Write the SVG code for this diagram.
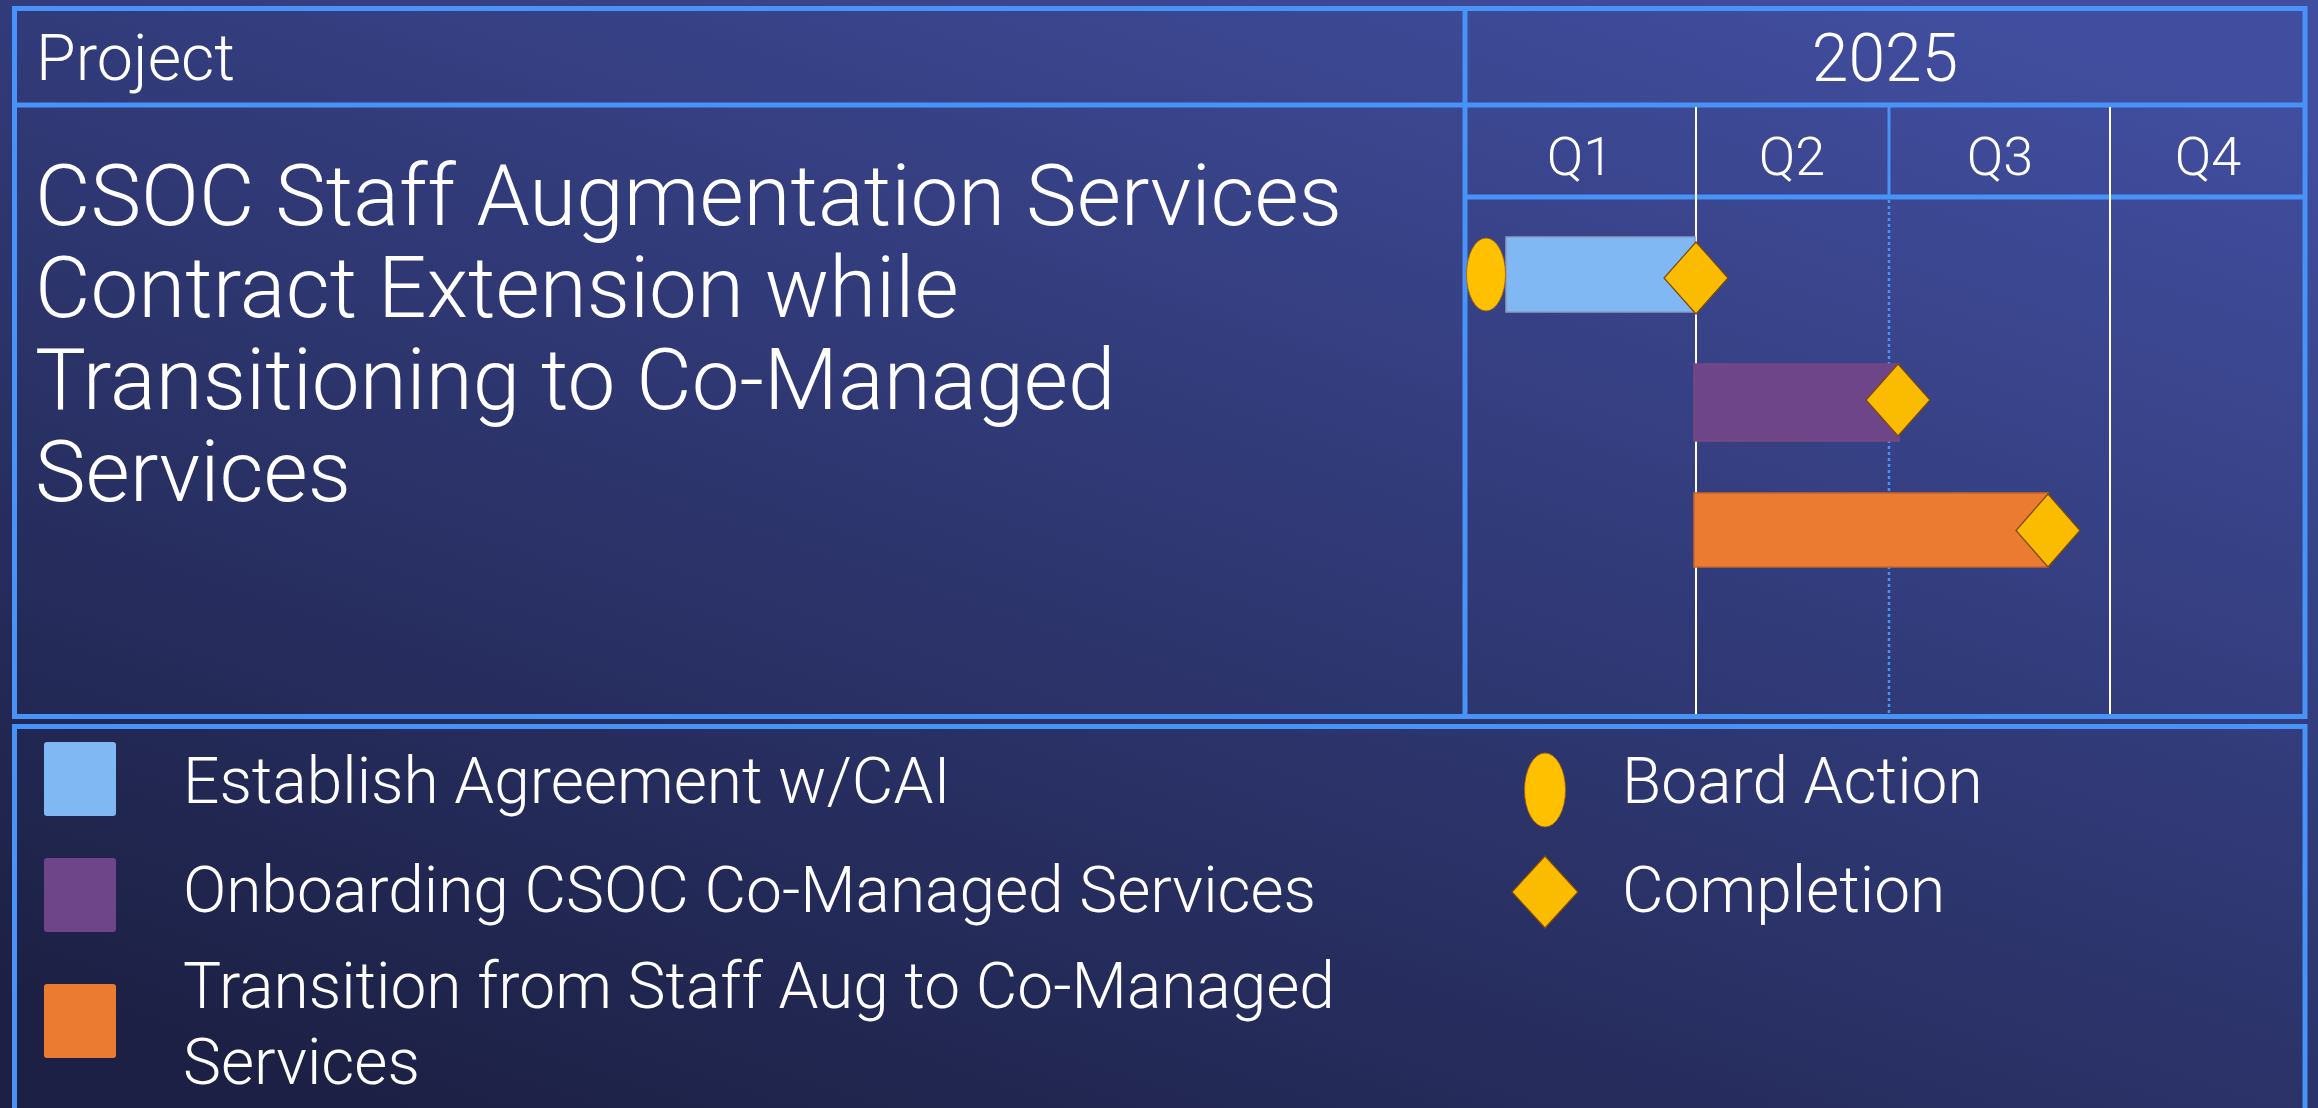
<svg xmlns="http://www.w3.org/2000/svg" width="2318" height="1108" viewBox="0 0 2318 1108">
<defs>
<linearGradient id="bg" x1="0.15" y1="1" x2="0.85" y2="0">
<stop offset="0" stop-color="#1c2044"/>
<stop offset="1" stop-color="#414e9f"/>
</linearGradient>
</defs>
<style>
.t{font-family:Roboto,"Liberation Sans",sans-serif;font-weight:300;fill:#ffffff}
.frame{fill:none;stroke:#4793f8;stroke-width:5}
.bl{stroke:#4793f8;stroke-width:5}
.wl{stroke:#ffffff;stroke-width:2}
.dot{stroke:#4793f8;stroke-width:2.5;stroke-dasharray:3 3}
.ms{fill:#fbbc00;stroke:#7a4a10;stroke-width:1.2}
.ov{fill:#ffc000;stroke:#a0600a;stroke-width:0.8}
</style>
<rect x="0" y="0" width="2318" height="1108" fill="url(#bg)"/>

<g id="table">
<rect class="frame" x="14.5" y="8.5" width="2290.5" height="708"/>
<line class="bl" x1="14" y1="105" x2="2305" y2="105"/>
<line class="bl" x1="1465" y1="8" x2="1465" y2="717"/>
<line class="bl" x1="1465" y1="197" x2="2305" y2="197"/>
<line class="wl" x1="1696" y1="107" x2="1696" y2="714"/>
<line class="wl" x1="2110" y1="107" x2="2110" y2="714"/>
<line stroke="#4793f8" stroke-width="3" x1="1889" y1="107" x2="1889" y2="195"/>
<line class="dot" x1="1889" y1="200" x2="1889" y2="714"/>
</g>

<g id="headers">
<text class="t" x="36" y="80" font-size="64.5">Project</text>
<text class="t" x="1885" y="81" font-size="66" text-anchor="middle">2025</text>
<text class="t" x="1580" y="175" font-size="54" text-anchor="middle">Q1</text>
<text class="t" x="1792" y="175" font-size="54" text-anchor="middle">Q2</text>
<text class="t" x="2000" y="175" font-size="54" text-anchor="middle">Q3</text>
<text class="t" x="2208" y="175" font-size="54" text-anchor="middle">Q4</text>
</g>

<g id="project-title">
<text class="t" x="35" y="225" font-size="85.4">CSOC Staff Augmentation Services</text>
<text class="t" x="35" y="317" font-size="85.4">Contract Extension while</text>
<text class="t" x="35" y="409" font-size="85.4">Transitioning to Co-Managed</text>
<text class="t" x="35" y="501" font-size="85.4">Services</text>
</g>

<g id="bar-agreement">
<rect x="1506" y="237" width="189" height="75" fill="#7fb8f2" stroke="#8a9cc0" stroke-width="1.5"/>
<ellipse class="ov" cx="1486" cy="274.5" rx="19.5" ry="36.5"/>
<polygon class="ms" points="1696,242 1728,278 1696,314 1664,278"/>
</g>

<g id="bar-onboarding">
<rect x="1694" y="364" width="205" height="77" fill="#6f4589" stroke="#7a4a80" stroke-width="1.5"/>
<polygon class="ms" points="1898,364 1930,400 1898,436 1866,400"/>
</g>

<g id="bar-transition">
<rect x="1694" y="493" width="354" height="74" fill="#ea7b30" stroke="#c8652a" stroke-width="1.5"/>
<polygon class="ms" points="2048,494 2080,530.5 2048,567 2016,530.5"/>
</g>

<g id="legend">
<rect class="frame" x="14.5" y="726.5" width="2290.5" height="400"/>
<rect x="44" y="742" width="72" height="74" rx="3" fill="#7fb8f2"/>
<rect x="44" y="858" width="72" height="74" rx="3" fill="#6f4589"/>
<rect x="44" y="984" width="72" height="74" rx="3" fill="#ea7b30"/>
<text class="t" x="183" y="803" font-size="64">Establish Agreement w/CAI</text>
<text class="t" x="183" y="912" font-size="64">Onboarding CSOC Co-Managed Services</text>
<text class="t" x="183" y="1008" font-size="64">Transition from Staff Aug to Co-Managed</text>
<text class="t" x="183" y="1084" font-size="64">Services</text>
<ellipse class="ov" cx="1545" cy="790" rx="20.5" ry="37"/>
<polygon class="ms" points="1545,856 1578,892 1545,928 1512,892"/>
<text class="t" x="1622" y="803" font-size="64">Board Action</text>
<text class="t" x="1622" y="912" font-size="64">Completion</text>
</g>
</svg>
